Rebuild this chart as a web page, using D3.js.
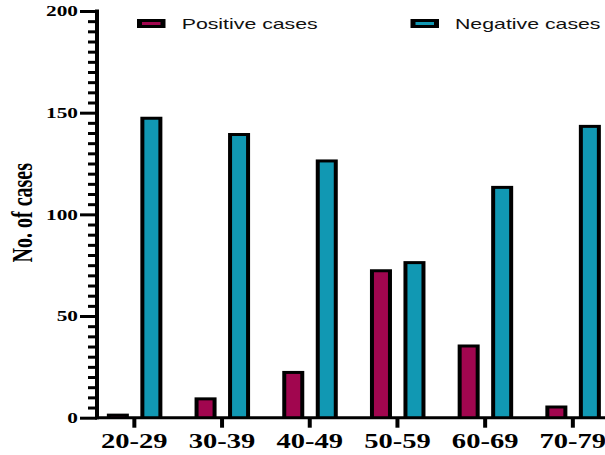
<!DOCTYPE html>
<html>
<head>
<meta charset="utf-8">
<script src="https://cdn.jsdelivr.net/npm/d3@7"></script>
<style>
  html, body { margin: 0; padding: 0; background: #fff; }
  svg { display: block; }
</style>
</head>
<body>
<svg id="chart" width="605" height="455"></svg>
<script>
// Age groups and case counts per group
const ageGroups = ["20-29", "30-39", "40-49", "50-59", "60-69", "70-79"];
const positiveCases = [2, 10, 23, 73, 36, 6];
const negativeCases = [148, 140, 127, 77, 114, 144];
const seriesNames = ["Positive cases", "Negative cases"];
const seriesColors = ["#A1064F", "#1198B3"];
const yMajorTicks = [0, 50, 100, 150, 200];
const yMinorStep = 5;
const yLabel = "No. of cases";

const W = 605, H = 455;
const serif = "'Liberation Serif', 'Times New Roman', serif";
const sans = "'Liberation Sans', Arial, sans-serif";
const stretch = 1.42;      // horizontal widening of glyphs
const sideStroke = 4;      // vertical outline thickness
const topStroke = 3;       // horizontal outline thickness

const svg = d3.select("#chart");

const y = d3.scaleLinear().domain([0, 200]).range([417.7, 11]);
const x0 = d3.scaleBand().domain(ageGroups).range([90.5, 616.7]).padding(0);
const bwGroup = x0.bandwidth();
const x1 = d3.scaleBand().domain(seriesNames)
  .range([bwGroup * 0.1865, bwGroup * 0.8195])
  .paddingInner(0.343);

const color = d3.scaleOrdinal().domain(seriesNames).range(seriesColors);

const rows = ageGroups.map((g, i) => ({
  group: g,
  values: [
    { series: seriesNames[0], value: positiveCases[i] },
    { series: seriesNames[1], value: negativeCases[i] }
  ]
}));

// Bars: black outline block with coloured core
const groups = svg.append("g").selectAll("g")
  .data(rows).join("g")
  .attr("transform", d => `translate(${x0(d.group)},0)`);

const bars = groups.selectAll("g")
  .data(d => d.values).join("g");

bars.append("rect")
  .attr("x", d => x1(d.series))
  .attr("width", x1.bandwidth())
  .attr("y", d => y(d.value))
  .attr("height", d => y(0) - y(d.value))
  .attr("fill", "#000");

bars.append("rect")
  .attr("x", d => x1(d.series) + sideStroke)
  .attr("width", x1.bandwidth() - 2 * sideStroke)
  .attr("y", d => y(d.value) + topStroke)
  .attr("height", d => Math.max(0, y(0) - y(d.value) - topStroke))
  .attr("fill", d => color(d.series));

// Y axis
const yAxisX = 97;
const minorTicks = d3.range(0, 201, yMinorStep).filter(v => v % 50 !== 0);

const yMinor = svg.append("g")
  .attr("transform", `translate(${yAxisX},0)`)
  .call(d3.axisLeft(y).tickValues(minorTicks).tickSize(9).tickSizeOuter(0).tickFormat(""));
const yMajor = svg.append("g")
  .attr("transform", `translate(${yAxisX},0)`)
  .call(d3.axisLeft(y).tickValues(yMajorTicks).tickSize(17).tickSizeOuter(0).tickFormat(""));
[yMinor, yMajor].forEach(a => {
  a.select(".domain").remove();
  a.selectAll(".tick line").attr("stroke", "#000").attr("stroke-width", 3);
});

svg.append("line")
  .attr("x1", yAxisX).attr("x2", yAxisX)
  .attr("y1", y(200) - 1.5).attr("y2", y(0) + 1.5)
  .attr("stroke", "#000").attr("stroke-width", 4);

svg.append("g").selectAll("text")
  .data(yMajorTicks).join("text")
  .attr("transform", d => `translate(78,${y(d) + 5.2}) scale(${stretch},1)`)
  .attr("text-anchor", "end")
  .attr("font-family", serif)
  .attr("font-weight", "bold")
  .attr("font-size", 15)
  .attr("fill", "#000")
  .text(d => d);

// X axis
const xAxis = svg.append("g")
  .attr("transform", `translate(0,${y(0)})`)
  .call(d3.axisBottom(x0).tickSize(10).tickSizeOuter(0).tickFormat(""));
xAxis.select(".domain").remove();
xAxis.selectAll(".tick line").attr("stroke", "#000").attr("stroke-width", 4);

svg.append("line")
  .attr("x1", yAxisX - 2).attr("x2", W)
  .attr("y1", y(0)).attr("y2", y(0))
  .attr("stroke", "#000").attr("stroke-width", 3);

svg.append("g").selectAll("text")
  .data(ageGroups).join("text")
  .attr("transform", d => `translate(${x0(d) + bwGroup / 2},448) scale(1.36,1)`)
  .attr("text-anchor", "middle")
  .attr("font-family", serif)
  .attr("font-weight", "bold")
  .attr("font-size", 21)
  .attr("fill", "#000")
  .text(d => d);

// Y axis title
svg.append("text")
  .attr("transform", `translate(31.5,212.7) scale(${stretch},1) rotate(-90)`)
  .attr("text-anchor", "middle")
  .attr("font-family", serif)
  .attr("font-weight", "bold")
  .attr("font-size", 20)
  .attr("fill", "#000")
  .text(yLabel);

// Legend
const legendItems = [
  { name: seriesNames[0], sx: 137, tx: 181.7 },
  { name: seriesNames[1], sx: 410.5, tx: 455 }
];
const legend = svg.append("g").selectAll("g")
  .data(legendItems).join("g");
legend.append("rect")
  .attr("x", d => d.sx).attr("y", 19)
  .attr("width", 28.5).attr("height", 9)
  .attr("fill", "#000");
legend.append("rect")
  .attr("x", d => d.sx + 5).attr("y", 22)
  .attr("width", 18.5).attr("height", 3)
  .attr("fill", d => color(d.name));
legend.append("text")
  .attr("transform", d => `translate(${d.tx},29) scale(${stretch},1)`)
  .attr("font-family", sans)
  .attr("font-size", 15)
  .attr("fill", "#111")
  .text(d => d.name);
</script>
</body>
</html>
